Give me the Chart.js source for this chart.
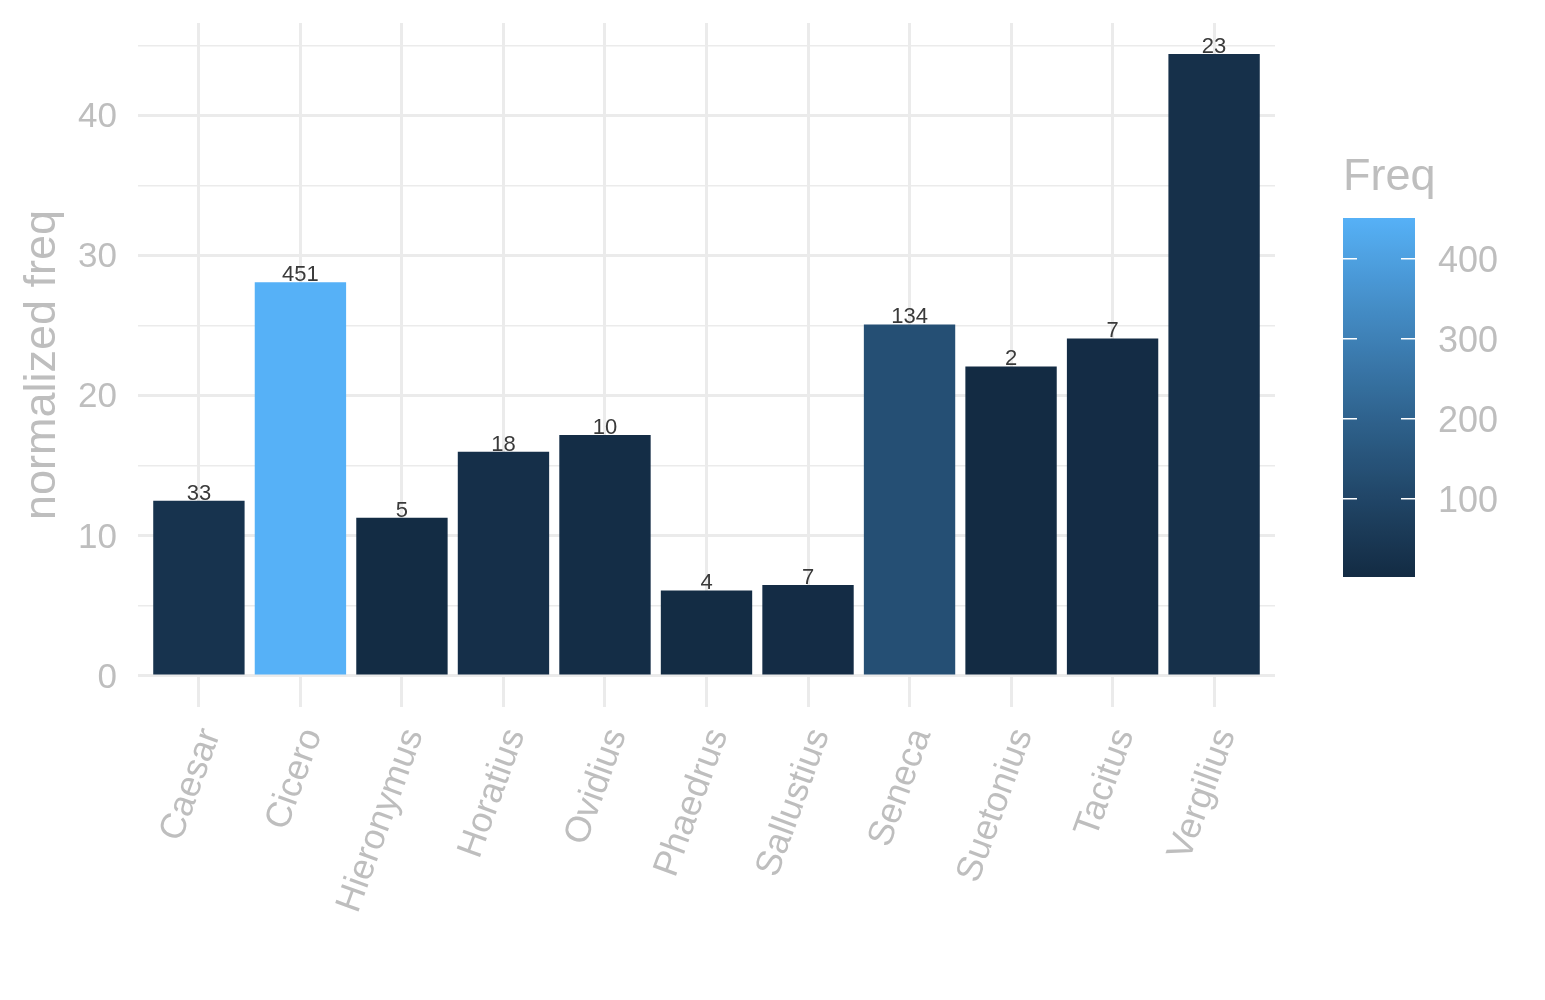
<!DOCTYPE html>
<html>
<head>
<meta charset="utf-8">
<script src="https://cdn.jsdelivr.net/npm/chart.js@4.4.1/dist/chart.umd.min.js"></script>
<style>
  html, body { margin: 0; padding: 0; background: #fff; }
  canvas { display: block; }
</style>
</head>
<body>
<canvas id="canvas" width="1545" height="1000"></canvas>
<script>
// data
const authors = ['Caesar', 'Cicero', 'Hieronymus', 'Horatius', 'Ovidius', 'Phaedrus',
                 'Sallustius', 'Seneca', 'Suetonius', 'Tacitus', 'Vergilius'];
const normFreq = [12.5, 28.1, 11.3, 16.0, 17.2, 6.1, 6.5, 25.1, 22.1, 24.1, 44.4];
const freq = [33, 451, 5, 18, 10, 4, 7, 134, 2, 7, 23];
const yTicks = [0, 10, 20, 30, 40];
const legendTicks = [100, 200, 300, 400];

const lowCol = '#132B43';
const highCol = '#56B1F7';
const greyText = '#BEBEBE';
const gridCol = '#EBEBEB';
const fontFamily = '"Liberation Sans", Arial, Helvetica, sans-serif';

// ggplot style gradient, interpolated in Lab
function toLab(hex) {
    const lin = c => c <= 0.04045 ? c / 12.92 : Math.pow((c + 0.055) / 1.055, 2.4);
    const r = lin(parseInt(hex.slice(1, 3), 16) / 255);
    const g = lin(parseInt(hex.slice(3, 5), 16) / 255);
    const b = lin(parseInt(hex.slice(5, 7), 16) / 255);
    const x = (r * 0.4124564 + g * 0.3575761 + b * 0.1804375) / 0.95047;
    const y = (r * 0.2126729 + g * 0.7151522 + b * 0.0721750);
    const z = (r * 0.0193339 + g * 0.1191920 + b * 0.9503041) / 1.08883;
    const f = t => t > 216 / 24389 ? Math.cbrt(t) : (24389 / 27 * t + 16) / 116;
    const fx = f(x), fy = f(y), fz = f(z);
    return [116 * fy - 16, 500 * (fx - fy), 200 * (fy - fz)];
}

function fromLab(lab) {
    const fy = (lab[0] + 16) / 116, fx = fy + lab[1] / 500, fz = fy - lab[2] / 200;
    const inv = t => t * t * t > 216 / 24389 ? t * t * t : (116 * t - 16) / (24389 / 27);
    const x = inv(fx) * 0.95047, y = inv(fy), z = inv(fz) * 1.08883;
    const r = x * 3.2404542 - y * 1.5371385 - z * 0.4985314;
    const g = -x * 0.9692660 + y * 1.8760108 + z * 0.0415560;
    const b = x * 0.0556434 - y * 0.2040259 + z * 1.0572252;
    const gam = c => {
        c = c <= 0.0031308 ? 12.92 * c : 1.055 * Math.pow(c, 1 / 2.4) - 0.055;
        return Math.round(Math.min(1, Math.max(0, c)) * 255);
    };
    return 'rgb(' + gam(r) + ',' + gam(g) + ',' + gam(b) + ')';
}

const labLow = toLab(lowCol);
const labHigh = toLab(highCol);
const fMin = Math.min(...freq);
const fMax = Math.max(...freq);

function fillColor(v) {
    const t = (v - fMin) / (fMax - fMin);
    return fromLab(labLow.map((c, k) => c + t * (labHigh[k] - c)));
}

// 5% expansion like ggplot
const yMaxData = Math.max(...normFreq);
const yMin = -0.05 * yMaxData;
const yMax = 1.05 * yMaxData;

const valueLabels = {
    id: 'valueLabels',
    afterDatasetsDraw(chart) {
        const ctx = chart.ctx;
        const meta = chart.getDatasetMeta(0);
        ctx.save();
        ctx.font = '22px ' + fontFamily;
        ctx.fillStyle = '#3a3a3a';
        ctx.textAlign = 'center';
        ctx.textBaseline = 'alphabetic';
        meta.data.forEach((bar, i) => {
            ctx.fillText(String(freq[i]), bar.x, bar.y - 1);
        });
        ctx.restore();
    }
};

const colorbar = {
    id: 'colorbar',
    afterDraw(chart) {
        const ctx = chart.ctx;
        const left = chart.chartArea.right + 68;
        const top = 218, w = 72, h = 359;
        ctx.save();

        ctx.font = '45px ' + fontFamily;
        ctx.fillStyle = greyText;
        ctx.textAlign = 'left';
        ctx.textBaseline = 'alphabetic';
        ctx.fillText('Freq', left, 190);

        const grad = ctx.createLinearGradient(0, top + h, 0, top);
        for (let k = 0; k <= 40; k++) {
            grad.addColorStop(k / 40, fillColor(fMin + (fMax - fMin) * k / 40));
        }
        ctx.fillStyle = grad;
        ctx.fillRect(left, top, w, h);

        ctx.strokeStyle = '#ffffff';
        ctx.lineWidth = 1.5;
        ctx.font = '36px ' + fontFamily;
        ctx.fillStyle = greyText;
        ctx.textBaseline = 'middle';
        legendTicks.forEach(v => {
            const y = top + h - (v - fMin) / (fMax - fMin) * h;
            ctx.beginPath();
            ctx.moveTo(left, y); ctx.lineTo(left + 14, y);
            ctx.moveTo(left + w - 14, y); ctx.lineTo(left + w, y);
            ctx.stroke();
            ctx.fillText(String(v), left + w + 23, y + 3);
        });
        ctx.restore();
    }
};

new Chart('canvas', {
    type: 'bar',
    data: {
        datasets: [{
            data: authors.map((a, i) => ({ x: i, y: normFreq[i] })),
            backgroundColor: freq.map(fillColor),
            borderWidth: 0,
            barPercentage: 0.9,
            categoryPercentage: 1.0
        }]
    },
    options: {
        responsive: false,
        animation: false,
        devicePixelRatio: 1,
        layout: { padding: { top: 23, right: 270, left: 0, bottom: 0 } },
        plugins: {
            legend: { display: false },
            tooltip: { enabled: false }
        },
        scales: {
            x: {
                type: 'linear',
                offset: false,
                min: -0.6,
                max: authors.length - 0.4,
                afterBuildTicks: ax => { ax.ticks = authors.map((a, i) => ({ value: i })); },
                afterFit: ax => {
                    ax.height = 293;
                    ax.paddingLeft = 0;
                    ax.paddingRight = 0;
                },
                grid: { color: gridCol, lineWidth: 3, drawTicks: false, offset: false },
                border: { display: false },
                ticks: {
                    autoSkip: false,
                    minRotation: 70,
                    maxRotation: 70,
                    padding: 16,
                    labelOffset: 12,
                    color: greyText,
                    font: { family: fontFamily, size: 36 },
                    callback: v => authors[v]
                }
            },
            y: {
                min: yMin,
                max: yMax,
                afterBuildTicks: ax => {
                    const t = [];
                    for (let v = 0; v <= yMax; v += 5) t.push({ value: v });
                    ax.ticks = t;
                },
                afterFit: ax => {
                    ax.width = 138;
                    ax.paddingTop = 0;
                    ax.paddingBottom = 0;
                },
                grid: {
                    color: gridCol,
                    lineWidth: c => (yTicks.includes(c.tick.value) ? 3 : 1.5),
                    drawTicks: false
                },
                border: { display: false },
                ticks: {
                    autoSkip: false,
                    padding: 21,
                    labelOffset: 2,
                    color: greyText,
                    font: { family: fontFamily, size: 35 },
                    callback: v => (yTicks.includes(v) ? String(v) : '')
                },
                title: {
                    display: true,
                    text: 'normalized freq',
                    color: greyText,
                    font: { family: fontFamily, size: 45 },
                    padding: { top: 16, bottom: 0 }
                }
            }
        }
    },
    plugins: [valueLabels, colorbar]
});
</script>
</body>
</html>
